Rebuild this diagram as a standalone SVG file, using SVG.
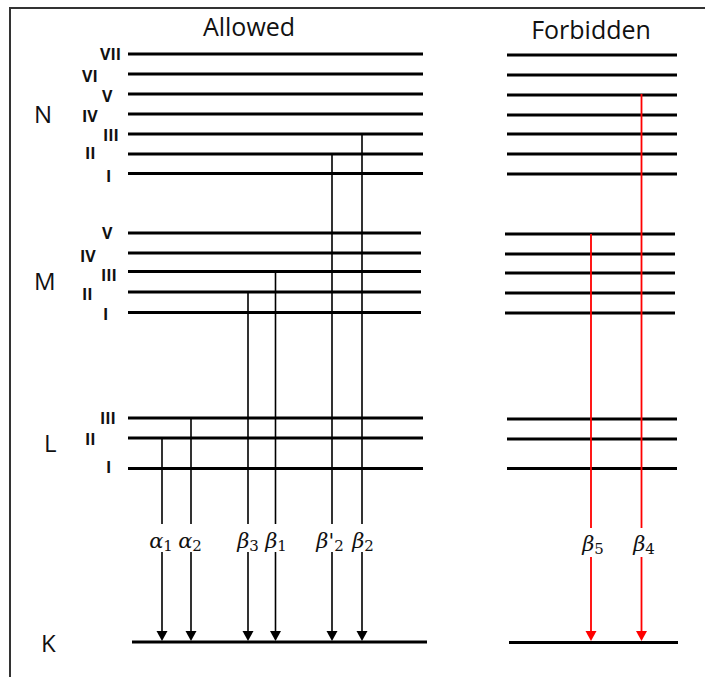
<svg xmlns="http://www.w3.org/2000/svg" width="705" height="677" viewBox="0 0 705 677">
<style>
.lvl{stroke:#000;stroke-width:3;fill:none}
.title{font-family:"Open Sans","Noto Sans",sans-serif;font-size:25px;fill:#111}
.shell{font-family:"Open Sans","Noto Sans",sans-serif;font-size:24px;fill:#111}
.rn{font-family:"Open Sans","Noto Sans",sans-serif;font-size:16px;font-weight:bold;fill:#111}
.blk{stroke:#000;stroke-width:1.6;fill:none}
.red{stroke:#f00;stroke-width:1.8;fill:none}
.lab{font-family:"DejaVu Serif","Liberation Serif",serif;font-size:21px;font-style:italic;fill:#111;text-anchor:middle}
.sub{font-size:15px;font-style:normal}
.pr{font-style:normal}
</style>
<defs>
<polygon id="ah" points="-5.5,-10 5.5,-10 0,0"/>
</defs>
<rect width="705" height="677" fill="#fff"/>
<path d="M10,677 V8 H705" stroke="#333" stroke-width="2" fill="none"/>

<g id="titles">
<text class="title" x="249" y="36" text-anchor="middle">Allowed</text>
<text class="title" x="591" y="38.5" text-anchor="middle">Forbidden</text>
</g>

<g id="shell-N">
<text class="shell" x="34" y="123">N</text>
<text class="rn" x="100" y="60">VII</text>
<text class="rn" x="82" y="81.5">VI</text>
<text class="rn" x="102" y="101.5">V</text>
<text class="rn" x="82" y="122">IV</text>
<text class="rn" x="103" y="140.5">III</text>
<text class="rn" x="85" y="159">II</text>
<text class="rn" x="106" y="181.5">I</text>
<path class="lvl" d="M128,54H423M128,74H423M128,94H423M128,114H423M128,134H423M128,154H423M128,173.5H423"/>
<path class="lvl" d="M507,55H677M507,75H677M507,95H677M507,115H677M507,134H677M507,154H677M507,174H677"/>
</g>

<g id="shell-M">
<text class="shell" x="34" y="290">M</text>
<text class="rn" x="102" y="239">V</text>
<text class="rn" x="80" y="261.5">IV</text>
<text class="rn" x="101" y="280.5">III</text>
<text class="rn" x="82" y="299.5">II</text>
<text class="rn" x="103" y="320">I</text>
<path class="lvl" d="M128,233H421M128,253H421M128,271.5H421M128,292H421M128,312.5H421"/>
<path class="lvl" d="M505,234H675M505,254H675M505,273H675M505,293H675M505,313H675"/>
</g>

<g id="shell-L">
<text class="shell" x="44" y="452">L</text>
<text class="rn" x="100" y="424">III</text>
<text class="rn" x="85" y="445">II</text>
<text class="rn" x="106" y="472.5">I</text>
<path class="lvl" d="M128,418H423M128,438H423M128,468.5H423"/>
<path class="lvl" d="M507,419H677M507,439H677M507,468.5H677"/>
</g>

<g id="shell-K">
<text class="shell" x="41" y="652">K</text>
<path class="lvl" d="M132,642H427"/>
<path class="lvl" d="M509,642.5H678"/>
</g>

<g id="connectors">
<path class="blk" d="M162,438V524M162,552V632"/>
<path class="blk" d="M191,418V524M191,552V632"/>
<path class="blk" d="M248,292V524M248,552V632"/>
<path class="blk" d="M275.5,272V524M275.5,552V632"/>
<path class="blk" d="M332,154V524M332,552V632"/>
<path class="blk" d="M362,134V524M362,552V632"/>
<use href="#ah" x="162" y="641" fill="#000"/>
<use href="#ah" x="191" y="641" fill="#000"/>
<use href="#ah" x="248" y="641" fill="#000"/>
<use href="#ah" x="275.5" y="641" fill="#000"/>
<use href="#ah" x="332" y="641" fill="#000"/>
<use href="#ah" x="362" y="641" fill="#000"/>
<path class="red" d="M591,234V528M591,557V632"/>
<path class="red" d="M641.5,94V528M641.5,557V632"/>
<use href="#ah" x="591" y="641" fill="#f00"/>
<use href="#ah" x="641.5" y="641" fill="#f00"/>
<text class="lab" x="161" y="548">α<tspan class="sub" dy="3">1</tspan></text>
<text class="lab" x="190" y="548">α<tspan class="sub" dy="3">2</tspan></text>
<text class="lab" x="248" y="548">β<tspan class="sub" dy="3">3</tspan></text>
<text class="lab" x="276" y="548">β<tspan class="sub" dy="3">1</tspan></text>
<text class="lab" x="330" y="548">β<tspan class="pr">'</tspan><tspan class="sub" dy="3">2</tspan></text>
<text class="lab" x="363" y="548">β<tspan class="sub" dy="3">2</tspan></text>
<text class="lab" x="593" y="551">β<tspan class="sub" dy="3">5</tspan></text>
<text class="lab" x="644" y="551">β<tspan class="sub" dy="3">4</tspan></text>
</g>
</svg>
